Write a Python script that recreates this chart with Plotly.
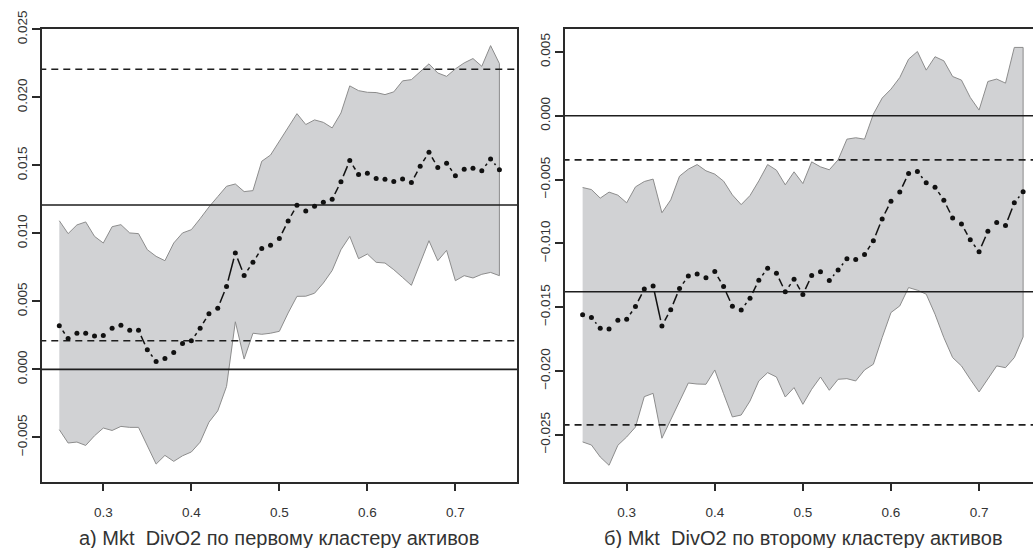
import plotly.graph_objects as go

# Grid of quantile levels
tau = [round(0.25 + 0.01 * i, 2) for i in range(51)]

# Panel a: first asset cluster
est_a = [0.00321, 0.00228, 0.00265, 0.00265, 0.00245, 0.00250, 0.00302, 0.00324, 0.00287, 0.00287,
         0.00145, 0.00059, 0.00081, 0.00125, 0.00191, 0.00211, 0.00302, 0.00410, 0.00449, 0.00610,
         0.00856, 0.00691, 0.00787, 0.00888, 0.00912, 0.00963, 0.01091, 0.01206, 0.01165, 0.01199,
         0.01228, 0.01250, 0.01380, 0.01535, 0.01432, 0.01441, 0.01404, 0.01397, 0.01382, 0.01400,
         0.01373, 0.01493, 0.01596, 0.01485, 0.01515, 0.01424, 0.01471, 0.01478, 0.01461, 0.01547,
         0.01468]
upper_a = [0.01093, 0.00998, 0.01062, 0.01084, 0.00978, 0.00929, 0.01049, 0.01064, 0.01003, 0.00998,
           0.00880, 0.00831, 0.00799, 0.00929, 0.01003, 0.01027, 0.01108, 0.01194, 0.01270, 0.01346,
           0.01363, 0.01307, 0.01314, 0.01530, 0.01576, 0.01674, 0.01780, 0.01880, 0.01800, 0.01834,
           0.01816, 0.01775, 0.01885, 0.02084, 0.02049, 0.02037, 0.02035, 0.02020, 0.02040, 0.02121,
           0.02130, 0.02191, 0.02246, 0.02179, 0.02154, 0.02209, 0.02253, 0.02285, 0.02228, 0.02380,
           0.02248]
lower_a = [-0.00443, -0.00541, -0.00534, -0.00559, -0.00488, -0.00431, -0.00449, -0.00419, -0.00426, -0.00426,
           -0.00566, -0.00696, -0.00632, -0.00676, -0.00635, -0.00607, -0.00535, -0.00388, -0.00305, -0.00125,
           0.00350, 0.00076, 0.00266, 0.00258, 0.00266, 0.00280, 0.00415, 0.00537, 0.00538, 0.00560,
           0.00635, 0.00727, 0.00880, 0.00978, 0.00814, 0.00848, 0.00787, 0.00782, 0.00733, 0.00676,
           0.00618, 0.00782, 0.00946, 0.00799, 0.00875, 0.00652, 0.00689, 0.00672, 0.00699, 0.00713,
           0.00689]
solid_a = [0.0, 0.01208]
dashed_a = [0.00211, 0.02206]

# Panel b: second asset cluster
est_b = [-0.01560, -0.01581, -0.01665, -0.01670, -0.01602, -0.01594, -0.01495, -0.01357, -0.01333, -0.01647,
         -0.01519, -0.01354, -0.01255, -0.01239, -0.01270, -0.01221, -0.01338, -0.01492, -0.01521, -0.01430,
         -0.01289, -0.01194, -0.01234, -0.01378, -0.01281, -0.01401, -0.01252, -0.01223, -0.01291, -0.01208,
         -0.01121, -0.01127, -0.01087, -0.00980, -0.00808, -0.00669, -0.00598, -0.00452, -0.00437, -0.00525,
         -0.00559, -0.00661, -0.00800, -0.00847, -0.00972, -0.01066, -0.00904, -0.00836, -0.00860, -0.00682,
         -0.00596]
upper_b = [-0.00562, -0.00578, -0.00645, -0.00598, -0.00622, -0.00682, -0.00557, -0.00515, -0.00496, -0.00760,
           -0.00659, -0.00473, -0.00418, -0.00382, -0.00431, -0.00457, -0.00512, -0.00620, -0.00696, -0.00625,
           -0.00510, -0.00382, -0.00426, -0.00541, -0.00439, -0.00531, -0.00361, -0.00400, -0.00423, -0.00345,
           -0.00183, -0.00172, -0.00183, 0.00013, 0.00139, 0.00209, 0.00300, 0.00444, 0.00504, 0.00358,
           0.00463, 0.00431, 0.00308, 0.00280, 0.00144, 0.00045, 0.00269, 0.00288, 0.00256, 0.00536,
           0.00536]
lower_b = [-0.02556, -0.02580, -0.02674, -0.02739, -0.02582, -0.02517, -0.02439, -0.02201, -0.02175, -0.02527,
           -0.02384, -0.02240, -0.02094, -0.02102, -0.02104, -0.01992, -0.02178, -0.02360, -0.02345, -0.02235,
           -0.02078, -0.02013, -0.02047, -0.02204, -0.02130, -0.02261, -0.02143, -0.02047, -0.02151, -0.02065,
           -0.02060, -0.02078, -0.01992, -0.01947, -0.01738, -0.01542, -0.01490, -0.01346, -0.01367, -0.01398,
           -0.01555, -0.01738, -0.01895, -0.01960, -0.02065, -0.02164, -0.02065, -0.01960, -0.01974, -0.01895,
           -0.01733]
solid_b = [0.0, -0.01379]
dashed_b = [-0.00345, -0.02422]

x_ticks = [0.3, 0.4, 0.5, 0.6, 0.7]
x_tick_text = ["0.3", "0.4", "0.5", "0.6", "0.7"]
y_ticks_a = [-0.005, 0.0, 0.005, 0.010, 0.015, 0.020, 0.025]
y_ticks_b = [-0.025, -0.020, -0.015, -0.010, -0.005, 0.0, 0.005]

caption_a = "а) Mkt\u00a0 DivO2 по первому кластеру активов"
caption_b = "б) Mkt\u00a0 DivO2 по второму кластеру активов"

W, H = 1033, 548
FONT = "Liberation Sans, Arial, sans-serif"
INK = "#1e1e1e"
TXT = "#333333"

dom_y = [1 - 481.5 / H, 1 - 29.3 / H]
panels = [
    dict(est=est_a, up=upper_a, lo=lower_a, solid=solid_a, dashed=dashed_a,
         xdom=[41.7 / W, 517.0 / W], xr=[0.23, 0.77], yr=[-0.00824, 0.025],
         yt=y_ticks_a, cap=caption_a, capx=279.4 / W, mirror=True),
    dict(est=est_b, up=upper_b, lo=lower_b, solid=solid_b, dashed=dashed_b,
         xdom=[565.0 / W, 1.0], xr=[0.23, 0.23 + (W - 565.0) / 881.0], yr=[-0.02866, 0.00678],
         yt=y_ticks_b, cap=caption_b, capx=803.5 / W, mirror=False),
]


def fmt(v):
    s = f"{abs(v):.3f}"
    return ("\u2212" + s) if v < -1e-12 else s


def gapped_segments(xs, ys, sx, sy, gap=6.0):
    """Line pieces between successive points, trimmed near each point (type 'b' style)."""
    gx, gy = [], []
    for i in range(len(xs) - 1):
        dx = (xs[i + 1] - xs[i]) * sx
        dy = (ys[i + 1] - ys[i]) * sy
        L = (dx * dx + dy * dy) ** 0.5
        if L <= 2 * gap + 1.0:
            continue
        f = gap / L
        gx += [xs[i] + (xs[i + 1] - xs[i]) * f, xs[i + 1] - (xs[i + 1] - xs[i]) * f, None]
        gy += [ys[i] + (ys[i + 1] - ys[i]) * f, ys[i + 1] - (ys[i + 1] - ys[i]) * f, None]
    return gx, gy


fig = go.Figure()
for k, p in enumerate(panels, start=1):
    xa = "x" if k == 1 else f"x{k}"
    ya = "y" if k == 1 else f"y{k}"
    # confidence band
    fig.add_trace(go.Scatter(
        x=tau + tau[::-1], y=p["up"] + p["lo"][::-1], xaxis=xa, yaxis=ya,
        mode="lines", fill="toself", fillcolor="#d1d2d4",
        line=dict(color="#8c8c8c", width=1), hoverinfo="skip", showlegend=False))
    # reference levels
    for v in p["solid"]:
        fig.add_trace(go.Scatter(x=[0.2, 0.8], y=[v, v], xaxis=xa, yaxis=ya, mode="lines",
                                 line=dict(color=INK, width=1.6), showlegend=False, hoverinfo="skip"))
    for v in p["dashed"]:
        fig.add_trace(go.Scatter(x=[0.2, 0.8], y=[v, v], xaxis=xa, yaxis=ya, mode="lines",
                                 line=dict(color=INK, width=1.6, dash="7px,5px"),
                                 showlegend=False, hoverinfo="skip"))
    # point estimates joined by trimmed segments
    plot_w = (p["xdom"][1] - p["xdom"][0]) * W
    plot_h = (dom_y[1] - dom_y[0]) * H
    sx = plot_w / (p["xr"][1] - p["xr"][0])
    sy = plot_h / (p["yr"][1] - p["yr"][0])
    gx, gy = gapped_segments(tau, p["est"], sx, sy)
    fig.add_trace(go.Scatter(x=gx, y=gy, xaxis=xa, yaxis=ya, mode="lines",
                             line=dict(color="#111111", width=1.5), showlegend=False, hoverinfo="skip"))
    fig.add_trace(go.Scatter(x=tau, y=p["est"], xaxis=xa, yaxis=ya, mode="markers",
                             marker=dict(color="#111111", size=5), showlegend=False))

    xkey = "xaxis" if k == 1 else f"xaxis{k}"
    ykey = "yaxis" if k == 1 else f"yaxis{k}"
    fig.update_layout({
        xkey: dict(domain=p["xdom"], range=p["xr"], anchor=ya, showgrid=False, zeroline=False,
                   automargin=False,
                   showline=True, linecolor="#2a2a2a", linewidth=1.6, mirror=True,
                   ticks="outside", ticklen=8, tickwidth=1.6, tickcolor="#2a2a2a",
                   tickvals=x_ticks, ticktext=x_tick_text, ticklabelstandoff=9,
                   tickfont=dict(family=FONT, size=13.5, color=TXT)),
        ykey: dict(domain=dom_y, range=p["yr"], anchor=xa, showgrid=False, zeroline=False,
                   automargin=False,
                   showline=True, linecolor="#2a2a2a", linewidth=1.6, mirror=p["mirror"],
                   ticks="outside", ticklen=8, tickwidth=1.6, tickcolor="#2a2a2a",
                   tickvals=p["yt"], ticktext=[fmt(v) for v in p["yt"]], tickangle=-90,
                   ticklabelstandoff=0, tickfont=dict(family=FONT, size=13.5, color=TXT)),
    })
    fig.add_annotation(text=p["cap"], xref="paper", yref="paper", x=p["capx"], y=1 - 538 / H,
                       xanchor="center", yanchor="middle", showarrow=False,
                       font=dict(family=FONT, size=20, color=TXT))

fig.update_layout(width=W, height=H, autosize=False, margin=dict(l=0, r=0, t=0, b=0),
                  paper_bgcolor="white", plot_bgcolor="white", showlegend=False)
fig.write_html("out.html")
